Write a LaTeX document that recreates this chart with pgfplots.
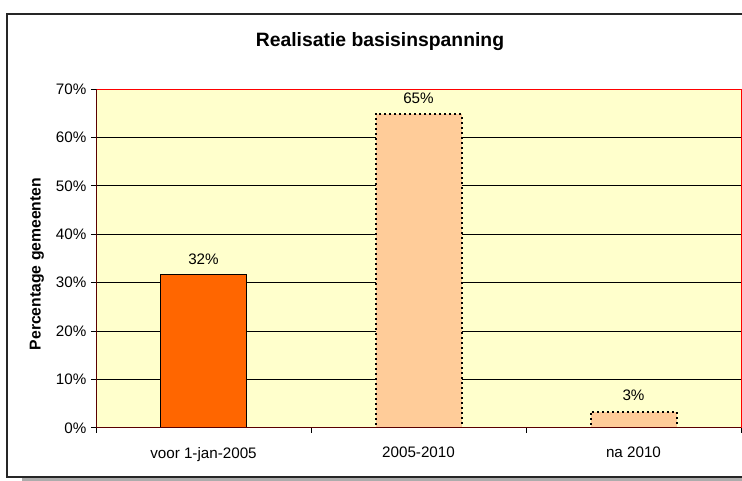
\documentclass[border=0pt]{standalone}
\usepackage{fontspec}
\setmainfont{Liberation Sans}
\usepackage{pgfplots}
\pgfplotsset{compat=1.18}
\definecolor{plotbg}{HTML}{FFFFCC}
\definecolor{barA}{HTML}{FF6600}
\definecolor{barB}{HTML}{FFCC99}
\definecolor{axdark}{HTML}{5A0000}
\newcommand{\lblfont}{\fontsize{11.4}{13}\selectfont}

\begin{document}
\begin{tikzpicture}[x=0.75pt,y=0.75pt]
\useasboundingbox (0,0) rectangle (742,481);
% chart frame with shadow
\fill[gray!65] (22,0.3) rectangle (745,3.5);
\fill[white] (7,4) rectangle (745,467);
\draw[line width=1.1pt, black!85] (7,4) rectangle (745,467);

\node[font=\bfseries\fontsize{14.5}{17}\selectfont] at (380,439) {Realisatie basisinspanning};
\node[rotate=90, font=\bfseries\fontsize{11.8}{14}\selectfont] at (37,217) {Percentage gemeenten};

\begin{axis}[
    at={(72pt,39.75pt)}, anchor=south west,
    width=483.75pt, height=254.25pt, scale only axis,
    axis background/.style={fill=plotbg},
    axis line style={red, line width=0.75pt},
    xmin=-0.5, xmax=2.5,
    ymin=0, ymax=70,
    xtick={-0.5,0.5,1.5,2.5},
    xticklabels={voor 1-jan-2005,2005-2010,na 2010},
    x tick label as interval,
    xtick pos=bottom, ytick pos=left,
    ytick={0,10,...,70},
    yticklabels={0\%,10\%,20\%,30\%,40\%,50\%,60\%,70\%},
    tick align=outside,
    major tick length=3.75pt,
    tick style={black, line width=0.75pt},
    tick label style={font=\lblfont, black},
    xticklabel style={yshift=-7pt},
    ymajorgrids,
    grid style={black, line width=0.75pt},
    ybar, bar shift=0pt, bar width=64.5pt,
    point meta=explicit symbolic,
    nodes near coords,
    nodes near coords style={font=\lblfont, black, yshift=4pt},
]
\addplot[fill=barA, draw=black, line width=0.75pt] coordinates {(0,31.7) [32\%]};
\addplot[fill=barB, draw=black, line width=1.5pt, dash pattern=on 1.5pt off 2.25pt] coordinates {(1,64.8) [65\%]};
\addplot[fill=barB, draw=black, line width=1.5pt, dash pattern=on 1.5pt off 2.25pt] coordinates {(2,3.4) [3\%]};
\draw[axdark, line width=0.9pt] (rel axis cs:0,1) -- (rel axis cs:0,0);
\draw[axdark, line width=1.5pt] (rel axis cs:0,0) -- (rel axis cs:1,0);
\end{axis}
\end{tikzpicture}
\end{document}
